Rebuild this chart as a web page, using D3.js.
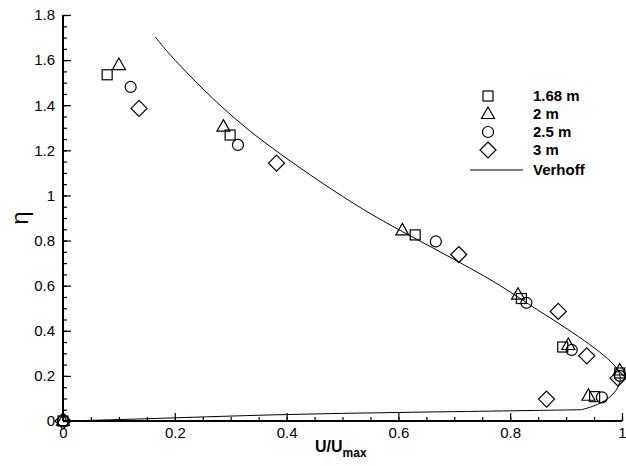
<!DOCTYPE html>
<html>
<head>
<meta charset="utf-8">
<script src="https://cdn.jsdelivr.net/npm/d3@7"></script>
<style>
  html, body { margin: 0; padding: 0; background: #fff; }
  svg { display: block; font-family: "Liberation Sans", Arial, sans-serif; }
</style>
</head>
<body>
<svg id="chart" width="626" height="466"></svg>
<script>
// Velocity profiles: U/Umax vs eta at several stations
const seriesNames = ["1.68 m", "2 m", "2.5 m", "3 m"];
const seriesSymbols = ["square", "triangle", "circle", "diamond"];

const u168 = [0, 0.079, 0.299, 0.630, 0.820, 0.894, 0.951, 0.996];
const eta168 = [0, 1.535, 1.268, 0.825, 0.543, 0.328, 0.108, 0.213];

const u2 = [0, 0.100, 0.287, 0.607, 0.814, 0.904, 0.940, 0.996];
const eta2 = [0, 1.578, 1.305, 0.845, 0.560, 0.337, 0.112, 0.224];

const u25 = [0, 0.121, 0.313, 0.667, 0.829, 0.910, 0.964, 0.996];
const eta25 = [0, 1.481, 1.224, 0.796, 0.524, 0.315, 0.105, 0.200];

const u3 = [0, 0.136, 0.382, 0.708, 0.886, 0.937, 0.865, 0.993];
const eta3 = [0, 1.386, 1.143, 0.738, 0.486, 0.289, 0.097, 0.190];

// Verhoff profile, from the wall upward (corner point repeated to keep it sharp)
const verhoffU = [0, 0.1, 0.2, 0.4, 0.6, 0.8, 0.928, 0.928, 0.928, 0.957, 0.980, 0.993, 0.999, 0.992, 0.970, 0.934, 0.889, 0.835, 0.782, 0.728, 0.669, 0.608, 0.540, 0.460, 0.388, 0.331, 0.277, 0.227, 0.191, 0.165];
const verhoffEta = [0, 0.006, 0.014, 0.030, 0.038, 0.045, 0.050, 0.050, 0.050, 0.071, 0.106, 0.146, 0.191, 0.235, 0.288, 0.355, 0.430, 0.514, 0.603, 0.678, 0.758, 0.838, 0.931, 1.060, 1.184, 1.290, 1.406, 1.530, 1.623, 1.703];

const xTicks = [0, 0.2, 0.4, 0.6, 0.8, 1];
const yTicks = [0, 0.2, 0.4, 0.6, 0.8, 1, 1.2, 1.4, 1.6, 1.8];

const svg = d3.select("#chart");
const x = d3.scaleLinear().domain([0, 1]).range([63, 622]);
const y = d3.scaleLinear().domain([0, 1.8]).range([421, 15]);

// Axes with inward ticks (major + minor)
const xMinor = d3.range(0, 1.0001, 0.05);
const yMinor = d3.range(0, 1.8001, 0.05);
const fmt = d => d3.format("")(+d.toFixed(1));

const gx = svg.append("g").attr("transform", `translate(0,${y(0)})`);
gx.call(d3.axisBottom(x).tickValues(xMinor).tickSize(-4).tickFormat(""));
gx.call(g => g.select(".domain").remove());
const gx2 = svg.append("g").attr("transform", `translate(0,${y(0)})`);
gx2.call(d3.axisBottom(x).tickValues(xTicks).tickSize(-8).tickPadding(6).tickFormat(fmt));
gx2.select(".domain").attr("d", `M${x(0)},0H${x(1)}`).attr("stroke-width", 2);

const gy = svg.append("g").attr("transform", `translate(${x(0)},0)`);
gy.call(d3.axisLeft(y).tickValues(yMinor).tickSize(-4).tickFormat(""));
gy.call(g => g.select(".domain").remove());
const gy2 = svg.append("g").attr("transform", `translate(${x(0)},0)`);
gy2.call(d3.axisLeft(y).tickValues(yTicks).tickSize(-8).tickPadding(8).tickFormat(fmt));
gy2.select(".domain").attr("d", `M0,${y(0)}V${y(1.8)}`).attr("stroke-width", 2);

svg.selectAll(".tick line").attr("stroke", "#000").attr("stroke-width", 1.2);
svg.selectAll(".tick text").attr("font-size", 15).attr("fill", "#000")
  .attr("font-family", "Liberation Sans, Arial, sans-serif");

// Axis titles
const xt = svg.append("text").attr("x", 315).attr("y", 452)
  .attr("font-size", 16).attr("font-weight", "bold");
xt.append("tspan").text("U/U");
xt.append("tspan").attr("font-size", 12).attr("dy", 5).text("max");

svg.append("text").attr("transform", "translate(28,218) rotate(-90)")
  .attr("text-anchor", "middle").attr("font-size", 24).text("η");

// Symbols
function drawSymbol(g, kind, cx, cy) {
  let s;
  if (kind === "square") {
    s = g.append("rect").attr("x", cx - 5).attr("y", cy - 5).attr("width", 10).attr("height", 10);
  } else if (kind === "triangle") {
    s = g.append("path").attr("d", `M${cx},${cy - 7}L${cx + 6.5},${cy + 4.5}L${cx - 6.5},${cy + 4.5}Z`);
  } else if (kind === "circle") {
    s = g.append("circle").attr("cx", cx).attr("cy", cy).attr("r", 5.5);
  } else {
    s = g.append("path").attr("d", `M${cx},${cy - 8}L${cx + 8},${cy}L${cx},${cy + 8}L${cx - 8},${cy}Z`);
  }
  s.attr("fill", "none").attr("stroke", "#000").attr("stroke-width", 1.2);
}

// Verhoff line
const line = d3.line().x(d => x(d[0])).y(d => y(d[1])).curve(d3.curveBasis);
svg.append("path").datum(d3.zip(verhoffU, verhoffEta))
  .attr("d", line).attr("fill", "none").attr("stroke", "#000").attr("stroke-width", 1);

const allU = [u168, u2, u25, u3];
const allEta = [eta168, eta2, eta25, eta3];
const marks = svg.append("g");
allU.forEach((us, i) => {
  us.forEach((u, j) => drawSymbol(marks, seriesSymbols[i], x(u), y(allEta[i][j])));
});

// Legend
const legend = svg.append("g");
const rowY = [96, 114, 132, 150];
seriesNames.forEach((name, i) => {
  drawSymbol(legend, seriesSymbols[i], 488, rowY[i]);
  legend.append("text").attr("x", 533).attr("y", rowY[i] + 5)
    .attr("font-size", 15).attr("font-weight", "bold").text(name);
});
legend.append("line").attr("x1", 470).attr("x2", 523).attr("y1", 170).attr("y2", 170)
  .attr("stroke", "#000").attr("stroke-width", 1);
legend.append("text").attr("x", 533).attr("y", 175)
  .attr("font-size", 15).attr("font-weight", "bold").text("Verhoff");
</script>
</body>
</html>
